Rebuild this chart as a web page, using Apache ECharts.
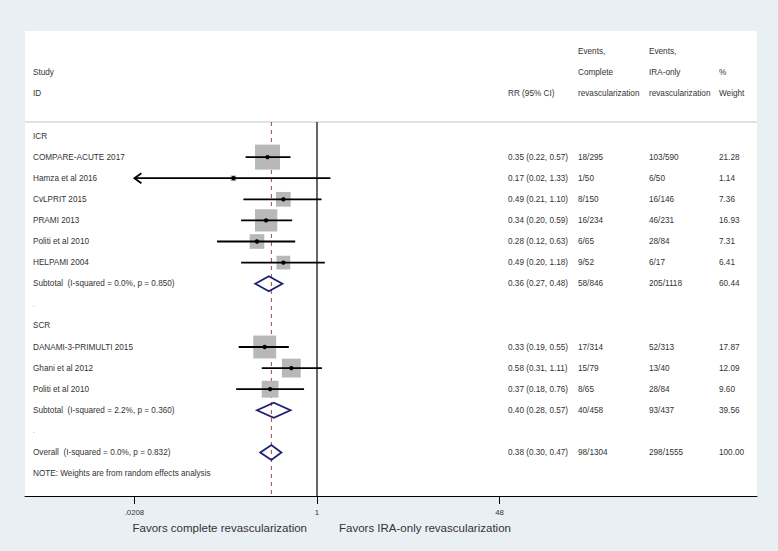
<!DOCTYPE html>
<html><head><meta charset="utf-8">
<script src="https://cdn.jsdelivr.net/npm/echarts@6/dist/echarts.min.js"></script>
<style>html,body{margin:0;padding:0;background:#e9f0f3}#c{width:778px;height:551px}</style>
</head><body><div id="c"></div>
<script>
// ---------------- data ----------------
const studies = ['COMPARE-ACUTE 2017','Hamza et al 2016','CvLPRIT 2015','PRAMI 2013','Politi et al 2010','HELPAMI 2004','DANAMI-3-PRIMULTI 2015','Ghani et al 2012','Politi et al 2010'];
const studyGroup = [0,0,0,0,0,0,1,1,1];
const rr   = [0.35,0.17,0.49,0.34,0.28,0.49,0.33,0.58,0.37];
const rrLo = [0.22,0.02,0.21,0.20,0.12,0.20,0.19,0.31,0.18];
const rrHi = [0.57,1.33,1.10,0.59,0.63,1.18,0.55,1.11,0.76];
const eventsComplete = ['18/295','1/50','8/150','16/234','6/65','9/52','17/314','15/79','8/65'];
const eventsIRA      = ['103/590','6/50','16/146','46/231','28/84','6/17','52/313','13/40','28/84'];
const weights = [21.28,1.14,7.36,16.93,7.31,6.41,17.87,12.09,9.60];

const groupNames = ['ICR','SCR'];
const subLabels = ['Subtotal  (I-squared = 0.0%, p = 0.850)','Subtotal  (I-squared = 2.2%, p = 0.360)'];
const subRR   = [0.36,0.40];
const subLo   = [0.27,0.28];
const subHi   = [0.48,0.57];
const subEvC  = ['58/846','40/458'];
const subEvI  = ['205/1118','93/437'];
const subW    = ['60.44','39.56'];

const overallLabel = 'Overall  (I-squared = 0.0%, p = 0.832)';
const overallRR = 0.38, overallLo = 0.30, overallHi = 0.47;
const overallEvC = '98/1304', overallEvI = '298/1555', overallW = '100.00';
const noteText = 'NOTE: Weights are from random effects analysis';

const tickValues = [0.0208, 1, 48];
const tickLabels = ['.0208', '1', '48'];
const favorsLeft = 'Favors complete revascularization';
const favorsRight = 'Favors IRA-only revascularization';

// ---------------- layout ----------------
const LN = Math.log;
const PX1 = 317, PXPER = 47.15;
const PANEL = {left:25, right:757, top:31, bottom:496};
const ROW0 = 136, ROWH = 21.1;
const XMIN = (PANEL.left - PX1) / PXPER, XMAX = (PANEL.right - PX1) / PXPER;
const YMIN = (PANEL.top - ROW0) / ROWH, YMAX = (PANEL.bottom - ROW0) / ROWH;
const COL = {study:33, rr:508, evC:578, evI:649, w:719};
const XCLIP = LN(tickValues[0]);
const FONT = '"Liberation Sans", Arial, sans-serif';
const FS = 8.2;
const TXT = '#333333';

const fmt = v => v.toFixed(2);
const ciText = (e,l,h) => fmt(e) + ' (' + fmt(l) + ', ' + fmt(h) + ')';

// row layout
const studyRows = [], subRows = [], groupRows = [], blankRows = [];
let r = 0;
groupNames.forEach((g, gi) => {
  groupRows.push(r++);
  studies.forEach((s, i) => { if (studyGroup[i] === gi) studyRows[i] = r++; });
  subRows.push(r++);
  blankRows.push(r++);
});
const overallRow = r++;
const noteRow = r++;
const headerLineRow = (122 - ROW0) / ROWH;
const footerRow = (528 - ROW0) / ROWH;

// text items: [x, row, text, align, size]
const texts = [];
texts.push([COL.study, -3, 'Study', 'left', FS]);
texts.push([COL.study, -2, 'ID', 'left', FS]);
texts.push([COL.rr, -2, 'RR (95% CI)', 'left', FS]);
texts.push([COL.evC, -4, 'Events,', 'left', FS]);
texts.push([COL.evC, -3, 'Complete', 'left', FS]);
texts.push([COL.evC, -2, 'revascularization', 'left', FS]);
texts.push([COL.evI, -4, 'Events,', 'left', FS]);
texts.push([COL.evI, -3, 'IRA-only', 'left', FS]);
texts.push([COL.evI, -2, 'revascularization', 'left', FS]);
texts.push([COL.w, -3, '%', 'left', FS]);
texts.push([COL.w, -2, 'Weight', 'left', FS]);
groupNames.forEach((g, gi) => {
  texts.push([COL.study, groupRows[gi], g, 'left', FS]);
  texts.push([COL.study, subRows[gi], subLabels[gi], 'left', FS]);
  texts.push([COL.rr, subRows[gi], ciText(subRR[gi], subLo[gi], subHi[gi]), 'left', FS]);
  texts.push([COL.evC, subRows[gi], subEvC[gi], 'left', FS]);
  texts.push([COL.evI, subRows[gi], subEvI[gi], 'left', FS]);
  texts.push([COL.w, subRows[gi], subW[gi], 'left', FS]);
  texts.push([COL.study, blankRows[gi], '.', 'left', 6]);
});
studies.forEach((s, i) => {
  texts.push([COL.study, studyRows[i], s, 'left', FS]);
  texts.push([COL.rr, studyRows[i], ciText(rr[i], rrLo[i], rrHi[i]), 'left', FS]);
  texts.push([COL.evC, studyRows[i], eventsComplete[i], 'left', FS]);
  texts.push([COL.evI, studyRows[i], eventsIRA[i], 'left', FS]);
  texts.push([COL.w, studyRows[i], weights[i].toFixed(2), 'left', FS]);
});
texts.push([COL.study, overallRow, overallLabel, 'left', FS]);
texts.push([COL.rr, overallRow, ciText(overallRR, overallLo, overallHi), 'left', FS]);
texts.push([COL.evC, overallRow, overallEvC, 'left', FS]);
texts.push([COL.evI, overallRow, overallEvI, 'left', FS]);
texts.push([COL.w, overallRow, overallW, 'left', FS]);
texts.push([COL.study, noteRow, noteText, 'left', FS]);
texts.push([307, footerRow, favorsLeft, 'right', 11.5]);
texts.push([339, footerRow, favorsRight, 'left', 11.5]);

// marks data
const studyData = studies.map((s, i) => [LN(rr[i]), studyRows[i], LN(rrLo[i]), LN(rrHi[i]), weights[i]]);
const diamondData = subRR.map((v, gi) => [LN(v), subRows[gi], LN(subLo[gi]), LN(subHi[gi])]);
diamondData.push([LN(overallRR), overallRow, LN(overallLo), LN(overallHi)]);

const chart = echarts.init(document.getElementById('c'), null, {renderer:'svg'});
chart.setOption({
  animation:false,
  backgroundColor:'#e9f0f3',
  grid:{left:PANEL.left, right:778-PANEL.right, top:PANEL.top, bottom:551-PANEL.bottom, show:true, backgroundColor:'#ffffff', borderWidth:0},
  xAxis:[{
    type:'value', min:XMIN, max:XMAX, position:'bottom',
    axisLine:{show:true, onZero:false, lineStyle:{color:'#000', width:1}},
    axisTick:{show:true, customValues:tickValues.map(LN), length:8, lineStyle:{color:'#000', width:1}},
    axisLabel:{show:true, customValues:tickValues.map(LN), margin:12, fontSize:7.8, color:TXT, fontFamily:FONT,
      formatter:v => { let k=0, d=1e9; tickValues.forEach((t,j)=>{const dd=Math.abs(LN(t)-v); if(dd<d){d=dd;k=j;}}); return tickLabels[k]; }},
    splitLine:{show:false}
  },{
    type:'value', min:PANEL.left, max:PANEL.right, show:false
  }],
  yAxis:[{type:'value', inverse:true, min:YMIN, max:YMAX, show:false}],
  series:[
    { // reference lines
      type:'custom', xAxisIndex:0, yAxisIndex:0, silent:true, clip:false,
      data:[[0, LN(overallRR)]],
      renderItem:(params, api) => {
        const yTop = api.coord([0, headerLineRow])[1];
        const yBot = api.coord([0, YMAX])[1];
        const xL = api.coord([XMIN, 0])[0], xR = api.coord([XMAX, 0])[0];
        const x1 = api.coord([api.value(0), 0])[0];
        const xo = api.coord([api.value(1), 0])[0];
        return {type:'group', children:[
          {type:'line', shape:{x1:xL, y1:yTop, x2:xR, y2:yTop}, style:{stroke:'#c4c4c4', lineWidth:1}},
          {type:'line', shape:{x1:x1, y1:yTop, x2:x1, y2:yBot}, style:{stroke:'#000', lineWidth:1.2}},
          {type:'line', shape:{x1:xo, y1:yTop, x2:xo, y2:yBot}, style:{stroke:'#a04848', lineWidth:1, lineDash:[4,4]}}
        ]};
      }
    },
    { // studies
      type:'custom', xAxisIndex:0, yAxisIndex:0, silent:true, clip:false,
      data:studyData,
      renderItem:(params, api) => {
        const row = api.value(1);
        const c = api.coord([api.value(0), row]);
        const lo = api.value(2), hi = api.value(3);
        const xl = api.coord([Math.max(lo, XCLIP), row])[0];
        const xh = api.coord([hi, row])[0];
        const side = 5.42 * Math.sqrt(api.value(4));
        const ch = [
          {type:'rect', shape:{x:c[0]-side/2, y:c[1]-side/2, width:side, height:side}, style:{fill:'#b8b8b8'}},
          {type:'line', shape:{x1:xl, y1:c[1], x2:xh, y2:c[1]}, style:{stroke:'#000', lineWidth:1.8}},
          {type:'circle', shape:{cx:c[0], cy:c[1], r:2.2}, style:{fill:'#000'}}
        ];
        if (lo < XCLIP) {
          ch.push({type:'polyline', shape:{points:[[xl+7, c[1]-5],[xl, c[1]],[xl+7, c[1]+5]]}, style:{stroke:'#000', lineWidth:1.8, fill:null}});
        }
        return {type:'group', children:ch};
      }
    },
    { // diamonds
      type:'custom', xAxisIndex:0, yAxisIndex:0, silent:true, clip:false,
      data:diamondData,
      renderItem:(params, api) => {
        const row = api.value(1);
        const c = api.coord([api.value(0), row]);
        const xl = api.coord([api.value(2), row])[0];
        const xh = api.coord([api.value(3), row])[0];
        const h = 7.5;
        return {type:'polygon', shape:{points:[[xl,c[1]],[c[0],c[1]-h],[xh,c[1]],[c[0],c[1]+h]]},
          style:{fill:null, stroke:'#1c2070', lineWidth:1.8}};
      }
    },
    { // texts
      type:'custom', xAxisIndex:1, yAxisIndex:0, silent:true, clip:false,
      data:texts.map(t => [t[0], t[1]]),
      renderItem:(params, api) => {
        const t = texts[params.dataIndex];
        const p = api.coord([api.value(0), api.value(1)]);
        return {type:'text', x:p[0], y:p[1], style:{text:t[2], fill:TXT, font:t[4] + 'px ' + FONT, align:t[3], verticalAlign:'middle'}};
      }
    }
  ]
});
</script>
</body></html>
